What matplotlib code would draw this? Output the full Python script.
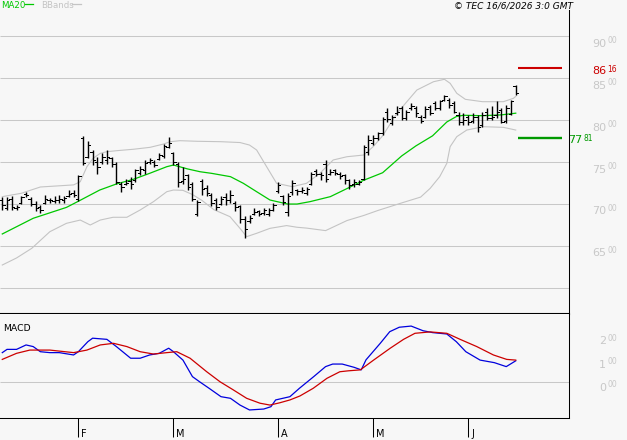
import matplotlib
matplotlib.use('Agg')
import matplotlib.pyplot as plt
from matplotlib.lines import Line2D

plt.rcParams['font.family'] = ['DejaVu Sans']

# ---------------- data (price in hundredths, as shown: 9000 -> "90 00") ----------------
high = [7080, 7080, 7090, 6990, 7090, 7140, 7080, 7030, 6990, 7110,
        7070, 7090, 7110, 7090, 7160, 7160, 7340, 7810, 7750, 7640,
        7560, 7600, 7640, 7560, 7500, 7260, 7290, 7320, 7420, 7450,
        7520, 7540, 7520, 7600, 7710, 7800, 7620, 7500, 7440, 7360,
        7260, 7050, 7300, 7220, 7130, 7070, 7090, 7130, 7170, 7030,
        6990, 6850, 6870, 6950, 6930, 6950, 6950, 7010, 7260, 7110,
        7130, 7280, 7180, 7200, 7200, 7380, 7410, 7380, 7520, 7420,
        7420, 7380, 7350, 7300, 7300, 7280, 7700, 7820, 7820, 7860,
        8040, 8140, 8060, 8160, 8160, 8120, 8200, 8160, 8060, 8160,
        8180, 8220, 8240, 8300, 8260, 8220, 8100, 8080, 8060, 8080,
        8060, 8100, 8140, 8160, 8220, 8140, 8180, 8240, 8420]
low = [6920, 6920, 6930, 6930, 7000, 7080, 6970, 6910, 6890, 7000,
       7010, 7010, 7010, 7010, 7080, 7080, 7030, 7460, 7540, 7460,
       7360, 7480, 7480, 7440, 7240, 7140, 7220, 7180, 7260, 7340,
       7360, 7480, 7440, 7520, 7550, 7660, 7460, 7200, 7240, 7160,
       7030, 6850, 7110, 7090, 6970, 6930, 6990, 6990, 7010, 6910,
       6770, 6590, 6770, 6870, 6850, 6870, 6850, 6910, 7130, 6990,
       6850, 7110, 7110, 7130, 7110, 7220, 7330, 7280, 7260, 7340,
       7340, 7300, 7240, 7180, 7200, 7220, 7280, 7580, 7700, 7760,
       7820, 7980, 7940, 8060, 8000, 8000, 8120, 8040, 7960, 8020,
       8060, 8120, 8120, 8220, 8140, 8080, 7940, 7940, 7940, 7960,
       7860, 7920, 8000, 8000, 8020, 7960, 7960, 8060, 8300]
opn = [7040, 6950, 7060, 6950, 7010, 7120, 7060, 7000, 6960, 7010,
       7050, 7030, 7040, 7050, 7090, 7130, 7060, 7780, 7560, 7620,
       7500, 7500, 7520, 7540, 7480, 7240, 7230, 7270, 7280, 7370,
       7400, 7500, 7500, 7530, 7570, 7680, 7600, 7480, 7270, 7340,
       7230, 6880, 7270, 7190, 7100, 7040, 7000, 7080, 7050, 7010,
       6970, 6820, 6790, 6880, 6910, 6890, 6880, 6930, 7150, 7090,
       6900, 7140, 7170, 7150, 7130, 7240, 7390, 7360, 7480, 7360,
       7400, 7360, 7340, 7280, 7230, 7240, 7300, 7620, 7720, 7780,
       7840, 8100, 7960, 8080, 8140, 8020, 8140, 8140, 8040, 8040,
       8150, 8200, 8140, 8240, 8240, 8200, 8060, 7980, 8040, 7990,
       8040, 7940, 8100, 8020, 8060, 8120, 7990, 8070, 8400]
close = [6980, 7050, 6960, 6960, 7080, 7100, 7000, 6950, 6920, 7060,
         7040, 7050, 7060, 7070, 7120, 7110, 7330, 7490, 7700, 7520,
         7440, 7560, 7560, 7480, 7260, 7200, 7250, 7240, 7400, 7420,
         7490, 7520, 7460, 7580, 7690, 7720, 7500, 7260, 7300, 7200,
         7060, 7020, 7180, 7130, 7010, 6960, 7060, 7040, 7100, 6960,
         6820, 6700, 6830, 6900, 6880, 6920, 6930, 6990, 7220, 7020,
         7090, 7250, 7150, 7160, 7180, 7350, 7350, 7340, 7300, 7380,
         7370, 7330, 7280, 7220, 7260, 7260, 7680, 7760, 7780, 7840,
         8010, 8010, 8040, 8100, 8020, 8100, 8160, 8080, 7990, 8130,
         8080, 8140, 8220, 8280, 8180, 8100, 7980, 8000, 7980, 8040,
         7920, 8060, 8020, 8040, 8100, 7980, 8140, 8220, 8320]

ma20_idx = [0, 6.5, 13.5, 16, 20.5, 24, 27.6, 31, 34.6, 36, 39, 41.6, 44, 48, 50.7,
            53.5, 56.3, 60, 62, 64.7, 69, 73, 76, 80, 84, 87, 90.5, 93.5, 95.5, 97,
            101, 105, 108]
ma20_val = [6640, 6827, 6957, 7030, 7164, 7236, 7292, 7363, 7442, 7462, 7415, 7382,
            7363, 7323, 7244, 7144, 7045, 6997, 6997, 7025, 7085, 7195, 7280, 7370,
            7570, 7690, 7810, 7975, 8040, 8055, 8050, 8060, 8080]

bb_up_idx = [0, 4, 8, 15, 16.4, 17.8, 19.1, 20.6, 22, 24.1, 27.6, 31.1, 33.9, 35.3,
             37.4, 41, 46, 50, 52, 53.5, 55.6, 57.7, 61, 64, 66.8, 69.6, 72.5, 76,
             78, 80, 83, 87.2, 90.7, 93, 94.2, 95.6, 97.4, 101, 105.4, 107.5, 108]
bb_up_val = [7085, 7125, 7200, 7225, 7263, 7442, 7542, 7601, 7621, 7633, 7650, 7673,
             7712, 7740, 7752, 7745, 7740, 7730, 7700, 7641, 7442, 7244, 7204, 7244,
             7363, 7522, 7561, 7581, 7680, 7810, 8078, 8356, 8455, 8484, 8436, 8317,
             8245, 8217, 8217, 8257, 8280]

bb_lo_idx = [0, 3, 6.2, 10, 13.5, 16.4, 18.5, 20.6, 23.3, 26.2, 29, 31.8, 34.6, 36,
             38, 40, 42, 44.5, 47.9, 50, 51.4, 53.5, 56.3, 59.8, 62, 64, 68, 72.5, 76,
             79, 84, 88, 90, 92, 93.5, 94.2, 95.6, 97.7, 101.2, 105.4, 108]
bb_lo_val = [6270, 6354, 6469, 6667, 6767, 6806, 6747, 6806, 6839, 6839, 6926, 7025,
             7144, 7164, 7160, 7110, 7040, 6930, 6846, 6707, 6608, 6648, 6707, 6740,
             6720, 6710, 6680, 6800, 6860, 6920, 7010, 7080, 7184, 7323, 7482, 7681,
             7800, 7879, 7919, 7911, 7879]

macd_idx = [0, 1, 3, 5, 6.5, 8, 10, 12, 15, 16, 18, 19, 22, 24, 27, 29, 31, 33, 35,
            36, 38, 40, 41.5, 43.5, 46, 48, 50, 52, 55, 56.5, 57.5, 59, 60.5, 62.5,
            65.5, 68, 69.5, 71.5, 74, 75.5, 76.5, 79.5, 81.5, 83.5, 86, 88.5, 90.5,
            93.5, 95.5, 97.5, 100.5, 103.5, 106, 108]
macd_val = [126, 140, 140, 159, 152, 130, 126, 126, 116, 130, 173, 188, 183, 152,
            102, 102, 116, 123, 145, 130, 94, 23, 1, -27, -63, -70, -99, -120, -116,
            -106, -77, -70, -63, -27, 23, 66, 77, 77, 63, 52, 95, 166, 216, 235, 240,
            220, 212, 206, 173, 130, 94, 83, 66, 91]

sig_idx = [0, 3, 5.8, 10, 15, 17.8, 20.6, 23.4, 26.2, 29, 31.8, 34.6, 36.7, 39.5, 43,
           45.8, 48.6, 51.4, 54.2, 56.3, 58.4, 60.5, 62.6, 65.4, 68.3, 71, 72.8, 75.3,
           78.1, 81.6, 84.4, 86.8, 90, 93.5, 96.3, 99.8, 103.3, 106.1, 108]
sig_val = [97, 123, 137, 137, 126, 137, 159, 166, 152, 130, 120, 126, 130, 102, 44, 1,
           -34, -70, -91, -99, -89, -77, -60, -27, 16, 44, 48, 52, 94, 145, 183, 209,
           215, 209, 183, 152, 116, 97, 94]

month_labels = ['F', 'M', 'A', 'M', 'J']
month_idx = [16, 36, 58, 78, 98]
price_grid = [6000, 6500, 7000, 7500, 8000, 8500, 9000]
price_labels = [6500, 7000, 7500, 8000, 8500, 9000]
macd_labels = [0, 100, 200]
level_hi = 8616
level_lo = 7781

# ---------------- layout ----------------
FW, FH = 627, 440
BG = '#f7f7f7'
GRAY = '#c8c8c8'
fig = plt.figure(figsize=(FW / 100, FH / 100), dpi=100, facecolor=BG)

def fx(px):
    return px / FW

def fy(py):
    return 1 - py / FH

ax = fig.add_axes([0, fy(314), fx(569), (314 - 10) / FH], facecolor=BG)
ax2 = fig.add_axes([0, fy(418), fx(569), (418 - 314) / FH], facecolor=BG)

xlim = (-0.48, 119.2)
for a in (ax, ax2):
    a.set_xlim(*xlim)
    a.set_yticks([])
    a.spines['left'].set_visible(False)
    a.spines['top'].set_visible(False)
    a.spines['right'].set_linewidth(0.75)
ax.spines['bottom'].set_linewidth(1.5)
ax2.spines['bottom'].set_linewidth(0.75)
ax.set_xticks([])

ax.set_ylim(5686, 9310)
ax2.set_ylim(-154.5, 291.8)

# grid
ax.hlines(price_grid, xlim[0], xlim[1], color=GRAY, lw=0.75, zorder=1)
ax2.hlines([0], xlim[0], xlim[1], color=GRAY, lw=0.75, zorder=1)

# bands & MA
ax.plot(bb_up_idx, bb_up_val, color='#c4c4c4', lw=0.8, zorder=2)
ax.plot(bb_lo_idx, bb_lo_val, color='#c4c4c4', lw=0.8, zorder=2)
ax.plot(ma20_idx, ma20_val, color='#00c800', lw=0.9, zorder=3)

# OHLC bars
idx = list(range(len(high)))
ax.vlines(idx, low, high, color='black', lw=1.0, zorder=4)
ax.hlines(opn, [i - 0.5 for i in idx], idx, color='black', lw=0.72, zorder=4,
          antialiased=False)
ax.hlines(close, idx, [i + 0.5 for i in idx], color='black', lw=0.72, zorder=4,
          antialiased=False)

# level lines
last = len(high) - 1
ax.hlines([level_hi], last + 0.5, last + 9.8, color='#cc0000', lw=1.5, zorder=3)
ax.hlines([level_lo], last + 0.5, last + 9.8, color='#009900', lw=1.7, zorder=3)

# MACD
ax2.plot(macd_idx, macd_val, color='#0000dd', lw=0.9, zorder=3)
ax2.plot(sig_idx, sig_val, color='#cc0000', lw=0.9, zorder=3)

# x ticks
ax2.set_xticks(month_idx)
ax2.set_xticklabels([])
ax2.tick_params(axis='x', direction='out', length=13.7, width=0.75, color='black')
for m, lab in zip(month_idx, month_labels):
    ax2.annotate(lab, xy=(m, 0), xycoords=('data', 'axes fraction'),
                 xytext=(3, -19), textcoords='offset pixels',
                 ha='left', va='baseline', fontsize=7, color='black')

# right labels (big + small part)
def split_label(a, v, color, xbig, xsmall, dy_big, dy_small, ha_big='right'):
    big = f"{int(v) // 100}"
    small = f"{int(v) % 100:02d}"
    a.annotate(big, xy=(1, v), xycoords=('axes fraction', 'data'),
               xytext=(xbig, dy_big), textcoords='offset pixels',
               ha=ha_big, va='baseline', fontsize=8, color=color, annotation_clip=False)
    a.annotate(small, xy=(1, v), xycoords=('axes fraction', 'data'),
               xytext=(xsmall, dy_small), textcoords='offset pixels',
               ha='left', va='baseline', fontsize=5.5, color=color, annotation_clip=False)

for v in price_labels:
    split_label(ax, v, GRAY, 37, 38, -10.7, -7.3)
for v in macd_labels:
    split_label(ax2, v, GRAY, 37, 38, -9, -5.3)
split_label(ax, level_hi, '#cc0000', 37, 38, -5.5, -3.5)
split_label(ax, level_lo, '#009900', 13, 14, -4.5, -2.8)

# MACD title
fig.text(fx(3), fy(331), 'MACD', fontsize=6.7, color='black', ha='left', va='baseline')

# legend
fig.text(fx(1), fy(8), 'MA20', fontsize=6.2, color='#00c800', ha='left', va='baseline')
fig.add_artist(Line2D([fx(25), fx(33)], [fy(4.5), fy(4.5)], color='#00c800', lw=0.9))
fig.text(fx(41), fy(8), 'BBands', fontsize=6.2, color='#c4c4c4', ha='left', va='baseline')
fig.add_artist(Line2D([fx(72), fx(81)], [fy(4.5), fy(4.5)], color='#c4c4c4', lw=0.9))

# copyright
fig.text(fx(573), fy(8.5), '\u00a9 TEC 16/6/2026 3:0 GMT', fontsize=6.5, style='italic',
         color='black', ha='right', va='baseline')

fig.savefig('out.png', dpi=100, facecolor=BG)
